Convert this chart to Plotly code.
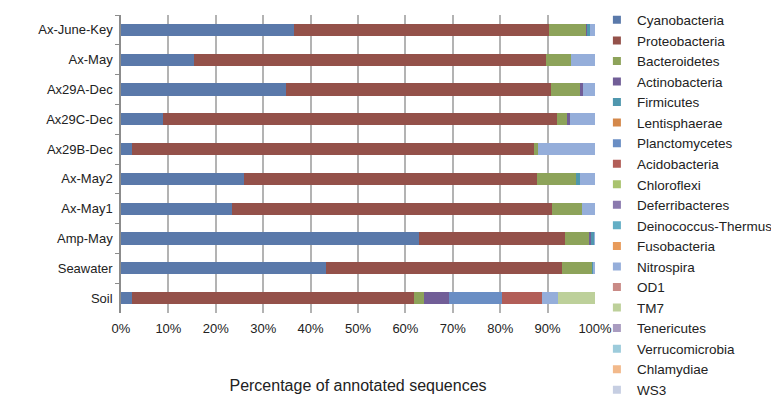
import plotly.graph_objects as go

samples = ["Ax-June-Key", "Ax-May", "Ax29A-Dec", "Ax29C-Dec", "Ax29B-Dec",
           "Ax-May2", "Ax-May1", "Amp-May", "Seawater", "Soil"]

phyla = ["Cyanobacteria", "Proteobacteria", "Bacteroidetes", "Actinobacteria",
         "Firmicutes", "Lentisphaerae", "Planctomycetes", "Acidobacteria",
         "Chloroflexi", "Deferribacteres", "Deinococcus-Thermus", "Fusobacteria",
         "Nitrospira", "OD1", "TM7", "Tenericutes", "Verrucomicrobia",
         "Chlamydiae", "WS3"]

cyanobacteria = [36.4, 15.4, 34.8, 8.8, 2.3, 26.0, 23.4, 62.9, 43.2, 2.3]
proteobacteria = [53.9, 74.2, 55.9, 83.2, 84.8, 61.7, 67.5, 30.8, 49.8, 59.6]
bacteroidetes = [7.9, 5.4, 6.1, 2.0, 0.9, 8.2, 6.3, 5.1, 6.4, 2.0]
actinobacteria = [0.3, 0, 0.6, 0.7, 0, 0, 0, 0.3, 0, 5.4]
firmicutes = [0.4, 0, 0, 0, 0, 1.0, 0, 0.8, 0.2, 0]
lentisphaerae = [0, 0, 0, 0, 0, 0, 0, 0, 0, 0]
planctomycetes = [0, 0, 0, 0, 0, 0, 0, 0, 0, 11.1]
acidobacteria = [0, 0, 0, 0, 0, 0, 0, 0, 0, 8.4]
chloroflexi = [0, 0, 0, 0, 0, 0, 0, 0, 0, 0]
deferribacteres = [0, 0, 0, 0, 0, 0, 0, 0, 0, 0]
deinococcus = [0, 0, 0, 0, 0, 0, 0, 0, 0, 0]
fusobacteria = [0, 0, 0, 0, 0, 0, 0, 0, 0, 0]
nitrospira = [1.1, 5.0, 2.6, 5.3, 12.0, 3.1, 2.8, 0.1, 0.4, 3.3]
od1 = [0, 0, 0, 0, 0, 0, 0, 0, 0, 0]
tm7 = [0, 0, 0, 0, 0, 0, 0, 0, 0, 7.9]
tenericutes = [0, 0, 0, 0, 0, 0, 0, 0, 0, 0]
verrucomicrobia = [0, 0, 0, 0, 0, 0, 0, 0, 0, 0]
chlamydiae = [0, 0, 0, 0, 0, 0, 0, 0, 0, 0]
ws3 = [0, 0, 0, 0, 0, 0, 0, 0, 0, 0]

values = [cyanobacteria, proteobacteria, bacteroidetes, actinobacteria, firmicutes,
          lentisphaerae, planctomycetes, acidobacteria, chloroflexi, deferribacteres,
          deinococcus, fusobacteria, nitrospira, od1, tm7, tenericutes,
          verrucomicrobia, chlamydiae, ws3]

colors = ["#5A79AA", "#94514A", "#8DA35A", "#715E97", "#4F97AE", "#D4884A",
          "#6A8EC4", "#B25E58", "#A9C36E", "#8A79AE", "#63AEC5", "#E89B5A",
          "#95AEDA", "#C98A86", "#BDD09A", "#A99CC0", "#9CCBDB", "#F2B98B",
          "#C6CEE2"]

fig = go.Figure()
for name, vals, col in zip(phyla, values, colors):
    fig.add_trace(go.Bar(
        y=samples, x=vals, name=name, orientation="h",
        marker=dict(color=col, line=dict(width=0)),
        legendgroup=name, showlegend=False,
    ))
# legend entries with small square keys (Excel style)
for name, col in zip(phyla, colors):
    fig.add_trace(go.Scatter(
        x=[None], y=[None], mode="markers", name=name, legendgroup=name,
        marker=dict(symbol="square", size=8, color=col),
        hoverinfo="skip",
    ))

fig.update_layout(
    barmode="stack",
    bargap=0.59,
    width=771, height=403,
    margin=dict(l=113, r=184, t=7, b=98, autoexpand=False),
    paper_bgcolor="white", plot_bgcolor="white",
    font=dict(family="Liberation Sans, Arial, sans-serif", size=12, color="#222222"),
    legend=dict(
        x=1.004, xanchor="left", y=1.035, yanchor="top",
        bgcolor="rgba(0,0,0,0)",
        font=dict(size=13.5, color="#222222"),
        tracegroupgap=0, itemwidth=30, traceorder="normal",
        maxheight=1.0,
    ),
    xaxis=dict(
        range=[0, 100], dtick=10, ticksuffix="%", automargin=False,
        showgrid=True, gridcolor="#B3B3B3", gridwidth=1.5,
        zeroline=False, showline=False,
        ticks="", tickfont=dict(size=13), ticklabelstandoff=6,
        title=dict(text="Percentage of annotated sequences", font=dict(size=16), standoff=44),
    ),
    yaxis=dict(
        categoryorder="array", categoryarray=samples, autorange="reversed",
        automargin=False,
        showline=True, linecolor="#8C8C8C", linewidth=1.5,
        ticks="outside", ticklen=4, tickcolor="#8C8C8C", tickson="boundaries",
        showgrid=False, tickfont=dict(size=13), ticklabelstandoff=4,
    ),
)

fig.write_html("out.html")
